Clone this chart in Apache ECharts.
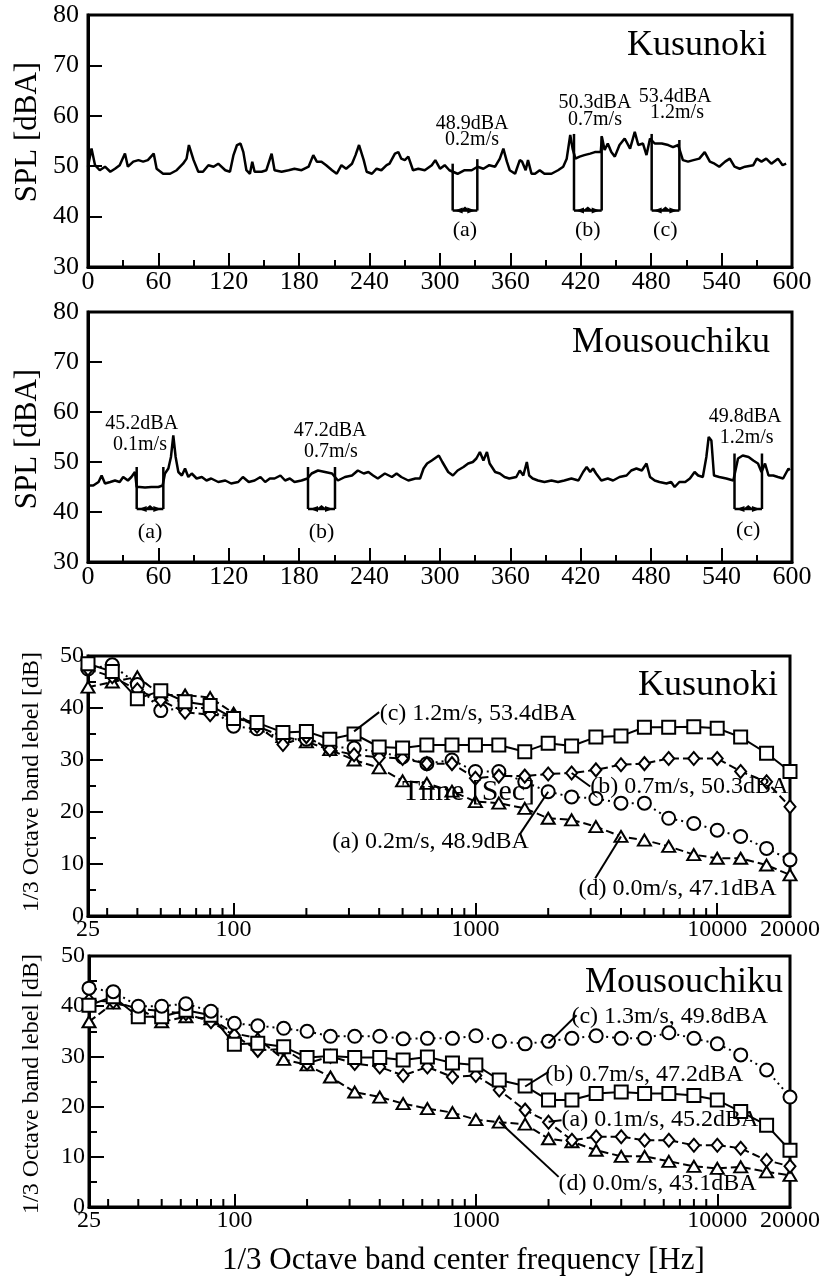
<!DOCTYPE html>
<html>
<head>
<meta charset="utf-8">
<script src="https://cdn.jsdelivr.net/npm/echarts@6/dist/echarts.min.js"></script>
<style>
html, body { margin: 0; padding: 0; background: #fff; }
#chart { width: 823px; height: 1282px; }
</style>
</head>
<body>
<div id="chart"></div>
<script>
// SPL time histories [time s, dBA]
const kusSPL = [
  [0,49.9],[3,53.5],[6,50.2],[10,49.2],[14.5,49.9],[19,48.9],[23,49.5],[27,50.2],[31.5,52.5],[34,49.9],
  [38.6,50.9],[43,51.2],[47,50.9],[51,51.2],[56,52.5],[58.5,49.5],[64,48.5],[70,48.5],[75.6,49.2],[81,50.5],
  [84,51.5],[86,54.2],[90,51.2],[94,48.9],[98,48.9],[102.6,50.2],[107,49.9],[111,50.5],[117,49.2],[121,48.9],
  [124,52.2],[127,54.2],[130,54.5],[132.4,52.8],[135,49.2],[138,48.5],[140,50.9],[142,48.9],[148,48.9],[152,49.2],
  [156.5,52.5],[159,49.2],[165,48.9],[171,49.2],[176,49.5],[182,49.2],[188,49.9],[192,52.2],[195,50.9],[199,50.9],
  [203,50.2],[208,49.2],[212,48.5],[216,50.2],[220,49.5],[225,50.5],[228,52.2],[231,54.2],[235,51.2],[237.5,48.9],
  [242,48.5],[246,49.5],[250,49.2],[254.5,50.2],[257,50.5],[261.6,52.5],[264.5,52.8],[267,51.5],[270,51.2],[273,51.9],
  [277,49.2],[281.5,49.5],[287,49.2],[293,50.2],[296,51.2],[300,49.5],[304,50.2],[308,49.2],[311,48.9],[315,48.5],
  [321,49.2],[327,49.2],[332,49.9],[337,49.5],[342,50.2],[347,49.9],[351,51.5],[354,53.5],[357,50.9],[359.4,49.2],
  [364,48.5],[368,51.2],[370,50.9],[373,49.2],[375,51.2],[378,48.5],[381,48.5],[385,49.2],[389,48.5],[395,48.5],
  [400.6,49.2],[405,49.9],[408,51.5],[411,56.2],[413,53.5],[415.4,51.5],[419,51.9],[423,52.2],[428,52.5],[432,52.8],
  [437,52.8],[438,55.8],[440.3,53.2],[443,54.5],[446,52.8],[449,51.9],[453,54.2],[457.4,55.5],[462,53.5],[466,56.8],
  [469,54.2],[473,54.5],[476,52.2],[479,55.5],[483,54.5],[489,54.5],[494.5,54.2],[498.6,53.8],[503,54.2],[507,51.2],
  [511.4,50.9],[516,51.2],[521,51.5],[525.6,52.8],[530,50.9],[534,50.5],[538,49.9],[543,50.9],[547,51.5],[551,49.9],
  [555.4,49.5],[560,49.9],[567,50.2],[570,51.5],[574,50.9],[578,51.5],[582.4,50.5],[588,51.5],[592,50.2],[595,50.5]
];
const mouSPL = [
  [0,45.3],[1.7,45.7],[4.5,45.3],[9,46.0],[11.6,47.3],[14.5,45.7],[19,46.0],[23,46.3],[27,46.0],[30,47.0],
  [34,46.3],[37,47.0],[40,48.0],[41.5,45.0],[44,45.0],[48.6,44.9],[54,45.0],[60,45.0],[63.6,45.3],[65.6,47.7],
  [68.5,48.7],[70.7,51.0],[72.7,55.3],[74.7,51.0],[77,48.0],[80,47.3],[82.7,48.7],[85.5,47.0],[88.4,47.7],[92.6,46.7],
  [97,47.0],[101,46.3],[105,46.7],[111,46.0],[117,46.3],[122,45.7],[128,46.0],[132,47.0],[137,46.0],[142,46.3],
  [147,47.0],[151,46.0],[155,46.7],[159,46.7],[164,47.3],[168,46.3],[172,46.7],[176,46.0],[182,46.3],[187,46.7],
  [190.6,47.7],[196,48.3],[202,48.0],[208,47.7],[210.5,47.0],[213,46.3],[219,47.0],[225,47.3],[230,48.3],[235,47.7],
  [239,48.0],[243,47.3],[247,46.7],[253,47.7],[259,47.0],[263,47.7],[267,47.0],[273,46.3],[279,46.7],[283,46.7],
  [286,48.7],[289,49.7],[293,50.3],[299,51.3],[302,50.0],[307,48.0],[311,47.3],[315,48.3],[320,49.0],[324,49.7],
  [328,50.0],[331,50.7],[334,52.0],[337,50.3],[340,52.0],[342.3,49.7],[347,48.0],[351,47.7],[355,47.0],[359,46.7],
  [365,47.0],[368,48.3],[371,47.3],[374,50.0],[376,47.3],[379,46.7],[383.5,46.3],[389,46.0],[395,46.3],[400.6,46.0],
  [406,46.3],[412,46.7],[418,46.3],[422,48.0],[425,49.0],[428,48.0],[430.4,48.7],[433,47.7],[437.5,46.3],[443,46.7],
  [447.5,46.3],[453,47.0],[459,47.3],[463,48.3],[467.4,48.7],[472,48.3],[476,49.7],[479,47.0],[483,46.3],[487,46.0],
  [493,45.7],[497,46.0],[500,45.0],[504,46.0],[509,46.0],[513,46.7],[517,48.0],[520,47.3],[524,47.0],[527,51.0],
  [529,55.0],[531.3,54.3],[533.5,47.3],[538,47.0],[544,46.7],[550,46.3],[554,50.7],[558,51.3],[563,51.0],[567,50.3],
  [571,49.7],[574,48.0],[577,49.7],[580,47.3],[584,47.3],[588,47.0],[592.4,46.7],[597,48.7],[598,48.3]
];

// analysis windows: [start s, end s, top left dB, top right dB, bottom dB]
const kusWindows = [[310.8,331.8,50.5,51.4,41.2],[414.2,437.8,56.4,56.0,41.2],[480.4,504,56.4,55.2,41.2]];
const mouWindows = [[41.5,64.2,49.0,49.0,40.6],[187.5,210.5,49.0,49.0,40.6],[551,574.4,51.7,51.7,40.6]];
const windowTags = ['(a)', '(b)', '(c)'];
const kusTagAt = [[321.3,37.2],[426,37.2],[492,37.2]];
const mouTagAt = [[52.9,36.0],[199,36.0],[562.7,36.3]];
const kusLevelText = ['48.9dBA','0.2m/s','50.3dBA','0.7m/s','53.4dBA','1.2m/s'];
const kusLevelAt = [[327.3,58.4],[327.3,55.2],[432.1,62.6],[432.1,59.3],[500.3,63.8],[502,60.6]];
const mouLevelText = ['45.2dBA','0.1m/s','47.2dBA','0.7m/s','49.8dBA','1.2m/s'];
const mouLevelAt = [[45.8,57.7],[44.3,53.5],[206.3,56.2],[207,52.0],[560,59.0],[561.4,54.8]];

// 1/3 octave spectra
const freqs = [25,31.5,40,50,63,80,100,125,160,200,250,315,400,500,630,800,1000,1250,1600,2000,2500,3150,4000,5000,6300,8000,10000,12500,16000,20000];
const kusC = [48.5,47.0,41.8,43.3,41.2,40.5,38.0,37.2,35.3,35.5,34.0,35.0,32.5,32.3,32.9,32.9,32.9,32.9,31.6,33.2,32.7,34.4,34.6,36.3,36.3,36.4,36.1,34.4,31.3,27.8];
const kusB = [47.5,46.0,43.5,41.5,39.2,38.7,38.5,36.5,33.0,34.5,32.0,31.0,30.5,30.3,29.3,29.3,26.5,26.9,26.9,27.3,27.5,28.1,29.1,29.3,30.3,30.3,30.3,27.8,25.8,21.0];
const kusA = [47.5,48.3,44.5,39.5,40.0,40.0,36.5,36.0,34.0,34.0,32.5,32.3,31.5,30.6,29.3,30.0,27.8,27.8,25.8,23.9,22.9,22.6,21.7,21.7,18.8,17.8,16.5,15.3,13.0,10.8];
const kusD = [44.0,45.0,46.0,42.5,42.5,42.0,39.0,36.5,34.5,33.5,32.0,30.0,28.5,26.0,25.5,24.0,22.0,21.7,20.7,18.8,18.5,17.2,15.3,14.6,13.4,11.8,11.1,11.1,9.8,7.9];
const mouC = [43.6,42.9,40.0,40.0,40.5,39.0,36.6,36.1,35.6,35.0,34.0,34.0,34.0,33.5,33.6,33.6,34.1,33.0,32.5,33.0,33.6,34.1,33.6,33.6,34.7,33.6,32.5,30.3,27.3,21.9];
const mouB = [40.2,41.9,37.9,37.9,39.2,38.2,32.4,32.6,31.9,29.8,30.1,29.8,29.8,29.3,29.9,28.7,28.3,25.3,24.1,21.3,21.3,22.6,22.9,22.6,22.6,22.2,21.3,19.0,16.3,11.3];
const mouA = [41.2,40.9,39.5,39.0,38.5,36.9,34.2,31.2,31.5,28.6,30.0,28.6,27.9,26.2,27.9,25.9,26.2,23.3,19.3,16.9,13.3,14.0,14.0,13.3,13.3,12.3,12.3,11.7,9.3,8.1];
const mouD = [36.9,40.6,39.6,36.9,37.9,37.5,34.6,33.6,29.4,28.3,25.9,22.9,21.9,20.6,19.6,18.8,17.4,16.9,16.5,13.6,13.0,11.3,10.1,10.1,9.1,8.1,7.7,8.0,7.0,6.3];
const minorFreqs = [30,40,50,60,70,80,90,200,300,400,500,600,700,800,900,2000,3000,4000,5000,6000,7000,8000,9000];

// leader lines: [from f, from dB, to f, to dB] and label text
const kusLeaders = [[315,35.5,400,39.2],[2500,27.5,2985,24.9],[2000,23.9,1535,15.9],[4000,15.3,3131,7.25]];
const kusNotes = ['(c) 1.2m/s, 53.4dBA','(b) 0.7m/s, 50.3dBA','(a) 0.2m/s, 48.9dBA','(d) 0.0m/s, 47.1dBA'];
const kusNoteAt = [[402,38.9],[2985,24.9],[256,14.3],[2672,5.3]];
const mouLeaders = [[2000,32.7,2612,38.2],[1600,24.0,2000,26.9],[2000,17.0,2265,17.3],[1250,17.0,2202,6.0]];
const mouNotes = ['(c) 1.3m/s, 49.8dBA','(b) 0.7m/s, 47.2dBA','(a) 0.1m/s, 45.2dBA','(d) 0.0m/s, 43.1dBA'];
const mouNoteAt = [[2489,37.9],[1940,26.3],[2265,17.3],[2202,4.7]];

const FONT = 'Liberation Serif';
const BLACK = '#000';

const chart = echarts.init(document.getElementById('chart'), null, { renderer: 'canvas' });

function frame(left, top, width, height) {
  return { left, top, width, height, show: true, borderColor: BLACK, borderWidth: 3, containLabel: false };
}

function timeX(gi) {
  return {
    type: 'value', gridIndex: gi, min: 0, max: 600, interval: 60,
    axisLine: { show: true, onZero: false, lineStyle: { color: BLACK, width: 3 } },
    axisTick: { show: true, inside: true, length: 14, lineStyle: { color: BLACK, width: 2 } },
    minorTick: { show: true, splitNumber: 2, length: 7, lineStyle: { color: BLACK, width: 2 } },
    splitLine: { show: false },
    axisLabel: { color: BLACK, fontFamily: FONT, fontSize: 26, margin: 2, showMinLabel: true, showMaxLabel: true }
  };
}
function timeY(gi) {
  return {
    type: 'value', gridIndex: gi, min: 30, max: 80, interval: 10,
    axisLine: { show: true, onZero: false, lineStyle: { color: BLACK, width: 3 } },
    axisTick: { show: true, inside: true, length: 14, lineStyle: { color: BLACK, width: 2 } },
    splitLine: { show: false },
    axisLabel: { color: BLACK, fontFamily: FONT, fontSize: 26, margin: 9, showMinLabel: true, showMaxLabel: true }
  };
}
function freqX(gi) {
  return {
    type: 'log', logBase: 10, gridIndex: gi, min: 25, max: 20000,
    axisLine: { show: true, onZero: false, lineStyle: { color: BLACK, width: 3 } },
    axisTick: { show: true, inside: true, length: 13, lineStyle: { color: BLACK, width: 2 } },
    splitLine: { show: false },
    axisLabel: { color: BLACK, fontFamily: FONT, fontSize: 24, margin: 2, showMinLabel: true, showMaxLabel: true,
      formatter: v => String(Math.round(v)) }
  };
}
function levelY(gi) {
  return {
    type: 'value', gridIndex: gi, min: 0, max: 50, interval: 10,
    axisLine: { show: true, onZero: false, lineStyle: { color: BLACK, width: 3 } },
    axisTick: { show: true, inside: true, length: 15, lineStyle: { color: BLACK, width: 2 } },
    minorTick: { show: true, splitNumber: 2, length: 8, lineStyle: { color: BLACK, width: 2 } },
    splitLine: { show: false },
    axisLabel: { color: BLACK, fontFamily: FONT, fontSize: 24, margin: 4, showMinLabel: true, showMaxLabel: true }
  };
}

function traceSeries(gi, data) {
  return { type: 'line', xAxisIndex: gi, yAxisIndex: gi, data, showSymbol: false,
    lineStyle: { color: BLACK, width: 2.5 }, animation: false, z: 3 };
}

// brackets marking analysis windows
function windowSeries(gi, windows) {
  return {
    type: 'custom', xAxisIndex: gi, yAxisIndex: gi, data: windows, animation: false, z: 4,
    renderItem: (params, api) => {
      const tl = api.coord([api.value(0), api.value(2)]);
      const bl = api.coord([api.value(0), api.value(4)]);
      const tr = api.coord([api.value(1), api.value(3)]);
      const br = api.coord([api.value(1), api.value(4)]);
      const st = { stroke: BLACK, lineWidth: 2.5 };
      const mid = (bl[0] + br[0]) / 2;
      return { type: 'group', children: [
        { type: 'line', shape: { x1: tl[0], y1: tl[1], x2: bl[0], y2: bl[1] }, style: st },
        { type: 'line', shape: { x1: tr[0], y1: tr[1], x2: br[0], y2: br[1] }, style: st },
        { type: 'line', shape: { x1: bl[0], y1: bl[1], x2: br[0], y2: br[1] }, style: st },
        { type: 'polygon', shape: { points: [[bl[0] + 2, bl[1]], [bl[0] + 10, bl[1] - 3], [bl[0] + 10, bl[1] + 3]] }, style: { fill: BLACK } },
        { type: 'polygon', shape: { points: [[br[0] - 2, br[1]], [br[0] - 10, br[1] - 3], [br[0] - 10, br[1] + 3]] }, style: { fill: BLACK } },
        { type: 'polygon', shape: { points: [[mid - 5, bl[1]], [mid, bl[1] - 4], [mid + 5, bl[1]]] }, style: { fill: BLACK } }
      ] };
    }
  };
}

function textSeries(gi, positions, texts, size, align) {
  return {
    type: 'custom', xAxisIndex: gi, yAxisIndex: gi, data: positions, animation: false, z: 5,
    renderItem: (params, api) => {
      const p = api.coord([api.value(0), api.value(1)]);
      return { type: 'text', x: p[0], y: p[1], style: { text: texts[params.dataIndex], fill: BLACK,
        fontFamily: FONT, fontSize: size, align, verticalAlign: 'middle' } };
    }
  };
}

function leaderSeries(gi, leaders) {
  return {
    type: 'custom', xAxisIndex: gi, yAxisIndex: gi, data: leaders, animation: false, z: 5,
    renderItem: (params, api) => {
      const a = api.coord([api.value(0), api.value(1)]);
      const b = api.coord([api.value(2), api.value(3)]);
      return { type: 'line', shape: { x1: a[0], y1: a[1], x2: b[0], y2: b[1] }, style: { stroke: BLACK, lineWidth: 2 } };
    }
  };
}

function minorLogTicks(gi) {
  return {
    type: 'custom', xAxisIndex: gi, yAxisIndex: gi, data: minorFreqs.map(f => [f, 0]), animation: false, z: 5,
    renderItem: (params, api) => {
      const p = api.coord([api.value(0), 0]);
      return { type: 'line', shape: { x1: p[0], y1: p[1], x2: p[0], y2: p[1] - 8 }, style: { stroke: BLACK, lineWidth: 2 } };
    }
  };
}

const MARK = {
  square: { symbol: 'rect', symbolSize: 13 },
  circle: { symbol: 'circle', symbolSize: 13 },
  diamond: { symbol: 'diamond', symbolSize: [11, 13] },
  triangle: { symbol: 'triangle', symbolSize: [13, 11] }
};
function spectrum(gi, values, mark, dash) {
  return {
    type: 'line', xAxisIndex: gi, yAxisIndex: gi, data: freqs.map((f, i) => [f, values[i]]),
    symbol: MARK[mark].symbol, symbolSize: MARK[mark].symbolSize, showSymbol: true, showAllSymbol: true,
    itemStyle: { color: '#fff', borderColor: BLACK, borderWidth: 2 },
    lineStyle: { color: BLACK, width: 2, type: dash },
    animation: false, z: 3
  };
}

function label(text, x, y, size, opts) {
  return Object.assign({ type: 'text', x, y, silent: true, z: 10,
    style: { text, fill: BLACK, fontFamily: FONT, fontSize: size, align: 'left', verticalAlign: 'middle' } }, opts || {});
}
function vlabel(text, x, y, size) {
  return { type: 'text', x, y, rotation: Math.PI / 2, silent: true, z: 10,
    style: { text, fill: BLACK, fontFamily: FONT, fontSize: size, align: 'center', verticalAlign: 'middle' } };
}
function rlabel(text, x, y, size) {
  return { type: 'text', x, y, silent: true, z: 10,
    style: { text, fill: BLACK, fontFamily: FONT, fontSize: size, align: 'right', verticalAlign: 'middle' } };
}

const DASH = [8, 4];
const DOT = [2, 4];

chart.setOption({
  animation: false,
  backgroundColor: '#fff',
  grid: [frame(88, 15, 704, 252), frame(88, 312, 704, 250), frame(88, 656, 703, 260), frame(89, 956, 703, 251)],
  xAxis: [timeX(0), timeX(1), freqX(2), freqX(3)],
  yAxis: [timeY(0), timeY(1), levelY(2), levelY(3)],
  series: [
    traceSeries(0, kusSPL),
    windowSeries(0, kusWindows),
    textSeries(0, kusTagAt, windowTags, 22, 'center'),
    textSeries(0, kusLevelAt, kusLevelText, 20, 'center'),
    traceSeries(1, mouSPL),
    windowSeries(1, mouWindows),
    textSeries(1, mouTagAt, windowTags, 22, 'center'),
    textSeries(1, mouLevelAt, mouLevelText, 20, 'center'),

    spectrum(2, kusD, 'triangle', DASH),
    spectrum(2, kusA, 'circle', DOT),
    spectrum(2, kusB, 'diamond', DASH),
    spectrum(2, kusC, 'square', 'solid'),
    minorLogTicks(2),
    leaderSeries(2, kusLeaders),
    textSeries(2, kusNoteAt, kusNotes, 24, 'left'),

    spectrum(3, mouD, 'triangle', DASH),
    spectrum(3, mouA, 'diamond', DASH),
    spectrum(3, mouB, 'square', 'solid'),
    spectrum(3, mouC, 'circle', DOT),
    minorLogTicks(3),
    leaderSeries(3, mouLeaders),
    textSeries(3, mouNoteAt, mouNotes, 24, 'left')
  ],
  graphic: [
    rlabel('Kusunoki', 767, 46, 36),
    rlabel('Mousouchiku', 770, 343, 36),
    rlabel('Kusunoki', 778, 686, 36),
    rlabel('Mousouchiku', 783, 983, 36),
    vlabel('SPL [dBA]', 28, 132, 31),
    vlabel('SPL [dBA]', 28, 439, 31),
    vlabel('1/3 Octave band lebel [dB]', 32, 782, 24),
    vlabel('1/3 Octave band lebel [dB]', 32, 1084, 24),
    label('Time [Sec]', 402, 792, 30),
    label('1/3 Octave band center frequency [Hz]', 222, 1261, 31)
  ]
});
</script>
</body>
</html>
